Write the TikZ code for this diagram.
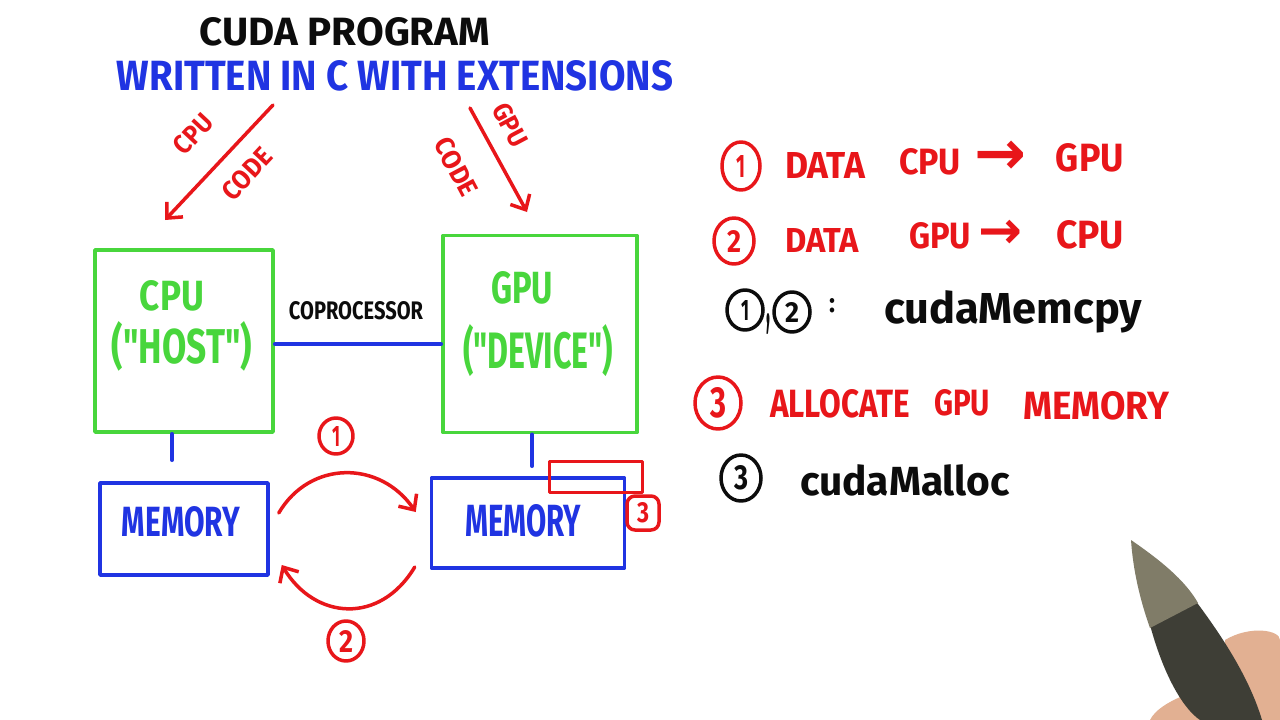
\documentclass[tikz,border=0pt]{standalone}
\usepackage{fontspec}
\usepackage{graphicx}
\setmainfont{Fira Sans}
\newfontfamily\djv{DejaVu Sans}
\usetikzlibrary{arrows.meta,shapes.geometric,calc}
\definecolor{mred}{RGB}{232,22,26}
\definecolor{mgreen}{RGB}{72,214,60}
\definecolor{mblue}{RGB}{32,52,226}
\definecolor{mblack}{RGB}{12,12,12}
\definecolor{pengray}{RGB}{128,124,104}
\definecolor{pendark}{RGB}{62,62,54}
\definecolor{skin}{RGB}{226,176,146}
\newcommand{\fitt}[3]{\resizebox{#1pt}{#2pt}{\bfseries #3}}
\newcommand{\fitw}[2]{\resizebox{#1pt}{!}{\bfseries #2}}
\begin{document}
\begin{tikzpicture}[x=1pt,y=-1pt,line cap=round,line join=round,
  stroke/.style={line width=3.5pt},
  txt/.style={inner sep=0pt,outer sep=0pt},
  greenbox/.style={draw=mgreen,stroke,rectangle,inner sep=0pt},
  bluebox/.style={draw=mblue,stroke,rectangle,inner sep=0pt},
  redarrow/.style={draw=mred,stroke,-{Straight Barb[length=12pt,width=22pt]}},
  num/.style={ellipse,stroke,inner sep=0pt,minimum width=38pt,minimum height=46pt},
  bluelink/.style={draw=mblue,stroke}]
\useasboundingbox[fill=white] (0,0) rectangle (1280,720);

% titles
\node[txt,text=mblack] (title) at (345,32) {\fitt{290}{28}{CUDA PROGRAM}};
\node[txt,text=mblue] (sub) at (395,76) {\fitt{556}{30}{WRITTEN IN C WITH EXTENSIONS}};

% code arrows
\coordinate (cs) at (273,105);
\coordinate (ce) at (165,220);
\draw[redarrow] (cs) -- (ce);
\node[txt,text=mred,rotate=47] (cpucode1) at (193,134) {\fitt{44}{19}{CPU}};
\node[txt,text=mred,rotate=47] (cpucode2) at (247,174) {\fitt{60}{19}{CODE}};
\coordinate (gs) at (470,108);
\coordinate (ge) at (527,212);
\draw[redarrow] (gs) -- (ge);
\node[txt,text=mred,rotate=-62] (gpucode1) at (510,125) {\fitt{46}{19}{GPU}};
\node[txt,text=mred,rotate=-62] (gpucode2) at (456,167) {\fitt{62}{19}{CODE}};

% processor boxes
\node[greenbox,minimum width=178pt,minimum height=182pt] (cpu) at (184,341) {};
\node[txt,text=mgreen] (cpul1) at (172,296) {\fitt{64}{30}{CPU}};
\node[txt,text=mgreen] (cpul2) at (182,346) {\fitt{140}{42}{(\textquotedbl HOST\textquotedbl)}};
\node[greenbox,minimum width=194pt,minimum height=197pt] (gpu) at (540,334) {};
\node[txt,text=mgreen] (gpul1) at (522,288) {\fitt{62}{32}{GPU}};
\node[txt,text=mgreen] (gpul2) at (538,351) {\fitt{150}{44}{(\textquotedbl DEVICE\textquotedbl)}};

\draw[bluelink] (cpu.east |- 0,344) -- (gpu.west |- 0,344);
\node[txt,text=mblack] (copro) at (356,311) {\fitt{134}{18}{COPROCESSOR}};

% memory boxes
\node[bluebox,minimum width=168pt,minimum height=92pt] (mem1) at (184,529) {};
\node[txt,text=mblue] (mem1l) at (181,522) {\fitt{118}{30}{MEMORY}};
\node[bluebox,minimum width=193pt,minimum height=90pt] (mem2) at (528,523) {};
\node[txt,text=mblue] (mem2l) at (523,521) {\fitt{116}{32}{MEMORY}};

\draw[bluelink,shorten >=21pt] ([xshift=-12pt]cpu.south) -- ([xshift=-12pt]cpu.south |- mem1.north);
\draw[bluelink,shorten >=10pt] ([xshift=-8pt]gpu.south) -- ([xshift=-8pt]gpu.south |- mem2.north);

% allocated region
\node[draw=mred,stroke,rectangle,minimum width=93pt,minimum height=31pt,inner sep=0pt] (alloc) at (596,477) {};
\node[draw=mred,stroke,rounded corners=8pt,minimum width=32pt,minimum height=34pt,inner sep=0pt,text=mred] (three) at (643,513) {\fitt{12}{20}{3}};

% transfers
\draw[redarrow] ([shift={(9,-16)}]mem1.east) .. controls (310,460) and (380,460) .. ([shift={(-14,-11)}]mem2.west);
\node[num,draw=mred,text=mred,minimum width=34pt,minimum height=36pt] (n1) at (336,436) {\fitt{8}{20}{1}};
\draw[redarrow] ([shift={(-15,44)}]mem2.west) .. controls (380,625) and (315,620) .. ([shift={(12,36)}]mem1.east);
\node[num,draw=mred,text=mred,minimum width=36pt,minimum height=40pt] (n2) at (346,641) {\fitt{14}{22}{2}};

% right column
\node[num,draw=mred,text=mred,minimum width=38pt,minimum height=48pt] (r1) at (741,166) {\fitt{9}{22}{1}};
\node[txt,text=mred,anchor=west] (r1a) at (785,165) {\fitt{80}{26}{DATA}};
\node[txt,text=mred] (r1b) at (930,162) {\fitt{62}{26}{CPU}};
\node[txt,text=mred] (r1c) at (1000,158) {\resizebox{52pt}{!}{\djv\bfseries →}};
\node[txt,text=mred] (r1d) at (1090,158) {\fitt{68}{28}{GPU}};

\node[num,draw=mred,text=mred,minimum width=40pt,minimum height=46pt] (r2) at (734,241) {\fitt{14}{22}{2}};
\node[txt,text=mred,anchor=west] (r2a) at (785,240) {\fitt{74}{24}{DATA}};
\node[txt,text=mred] (r2b) at (940,236) {\fitt{62}{26}{GPU}};
\node[txt,text=mred] (r2c) at (1000,234) {\resizebox{44pt}{!}{\djv\bfseries →}};
\node[txt,text=mred] (r2d) at (1090,235) {\fitt{68}{28}{CPU}};

\node[num,draw=mblack,text=mblack,minimum width=36pt,minimum height=40pt] (b1) at (745,310) {\fitt{8}{20}{1}};
\node[txt,text=mblack] (comma) at (768,324) {\fitt{4}{10}{,}};
\node[num,draw=mblack,text=mblack,minimum width=36pt,minimum height=40pt] (b2) at (792,312) {\fitt{14}{20}{2}};
\node[txt,text=mblack] (colon) at (832,306) {\fitt{6}{14}{:}};
\node[txt,text=mblack,anchor=west] (memcpy) at (884,312) {\fitw{258}{cudaMemcpy}};

\node[num,draw=mred,text=mred,minimum width=46pt,minimum height=52pt] (r3) at (718,403) {\fitt{16}{30}{3}};
\node[txt,text=mred,anchor=west] (r3a) at (770,404) {\fitt{140}{28}{ALLOCATE}};
\node[txt,text=mred] (r3b) at (962,403) {\fitt{56}{26}{GPU}};
\node[txt,text=mred] (r3c) at (1096,406) {\fitt{146}{28}{MEMORY}};

\node[num,draw=mblack,text=mblack,minimum width=40pt,minimum height=46pt] (b3) at (741,478) {\fitt{14}{24}{3}};
\node[txt,text=mblack,anchor=west] (malloc) at (800,480) {\fitw{210}{cudaMalloc}};

% pen and hand
\fill[skin] (1225,640) .. controls (1250,625) and (1280,630) .. (1280,640) -- (1280,720) -- (1150,720) .. controls (1160,700) and (1200,690) .. (1225,680) -- cycle;
\fill[pendark] (1150,625) .. controls (1165,680) and (1185,710) .. (1200,720) -- (1262,720) .. controls (1250,680) and (1225,640) .. (1195,600) -- cycle;
\fill[pengray] (1131,540) .. controls (1160,560) and (1185,580) .. (1198,603) -- (1150,628) .. controls (1140,600) and (1133,570) .. cycle;
\end{tikzpicture}
\end{document}
